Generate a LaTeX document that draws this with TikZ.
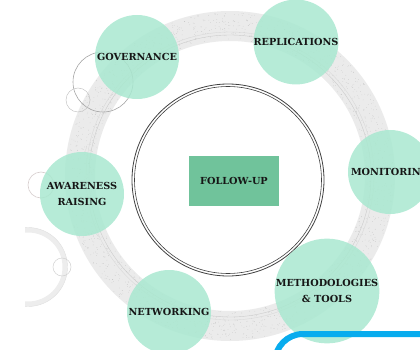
\documentclass[tikz,border=0pt]{standalone}
\usepackage{fontspec}
\setmainfont{DejaVu Serif}
\definecolor{mint}{HTML}{A9E8D0}
\definecolor{boxgreen}{HTML}{70C39B}
\definecolor{ink}{HTML}{161616}
\definecolor{bandgray}{HTML}{EBEBEB}
\definecolor{skyblue}{HTML}{08ACEE}
\definecolor{sketch}{HTML}{404040}
\begin{document}
\begin{tikzpicture}[x=1pt,y=-1pt,
  topic/.style={circle, fill=mint, fill opacity=0.85, text opacity=1,
    minimum size=84pt, inner sep=0pt, align=center, text=ink,
    font=\bfseries\fontsize{9.7}{15.5}\selectfont},
  hub/.style={rectangle, fill=boxgreen, minimum width=90pt, minimum height=50pt,
    inner sep=0pt, text=ink, font=\bfseries\fontsize{9.7}{12}\selectfont},
  ringline/.style={sketch, line width=0.8pt}]
\useasboundingbox (0,0) rectangle (420,350);
\clip (0,0) rectangle (420,350);

% textured outer band
\draw[bandgray, line width=30pt] (230,176) circle[radius=150pt];
\pgfmathsetseed{11}
\foreach \i in {1,...,1800}{
  \pgfmathsetmacro\ang{rnd*360}
  \pgfmathsetmacro\rad{136+rnd*28}
  \fill[gray!50, shift={(230,176)}] (\ang:\rad pt) circle[radius=0.3pt];
}
\draw[gray!40, line width=0.4pt] (230,176) circle[radius=141pt];
\draw[gray!30, line width=0.4pt] (230,176) circle[radius=144pt];

% side ornaments
\begin{scope}
  \clip (25,0) rectangle (420,350);
  \draw[gray!14, line width=5pt] (28,267) circle[radius=37pt];
  \draw[gray!25, line width=0.4pt] (28,267) circle[radius=39.5pt];
  \draw[gray!35, line width=0.5pt] (62,267) circle[radius=9pt];
  \draw[red!10!gray!35, line width=0.6pt] (41,185) circle[radius=13pt];
\end{scope}
\draw[gray!70, line width=0.6pt] (103,82) circle[radius=30pt];
\draw[gray!45, line width=0.5pt] (78,100) circle[radius=12pt];

% central double ring
\draw[ringline] (228,180) circle[radius=96pt];
\draw[ringline, line width=0.6pt] (228,180) circle[radius=93.5pt];

\node[hub] (follow) at (234,181) {FOLLOW-UP};

\node[topic] (gov)   at (137,57)  {GOVERNANCE};
\node[topic] (rep)   at (296,42)  {REPLICATIONS};
\node[topic] (mon)   at (390,172) {MONITORING};
\node[topic] (aware) at (82,194)  {AWARENESS\\RAISING};
\node[topic] (net)   at (169,312) {NETWORKING};
\node[topic] (meth)  at (327,291) {METHODOLOGIES\\\&~TOOLS};

% blue frame in the lower corner
\draw[skyblue, line width=6pt, rounded corners=28pt]
  (275,380) -- (275,334) -- (450,334);
\end{tikzpicture}
\end{document}
